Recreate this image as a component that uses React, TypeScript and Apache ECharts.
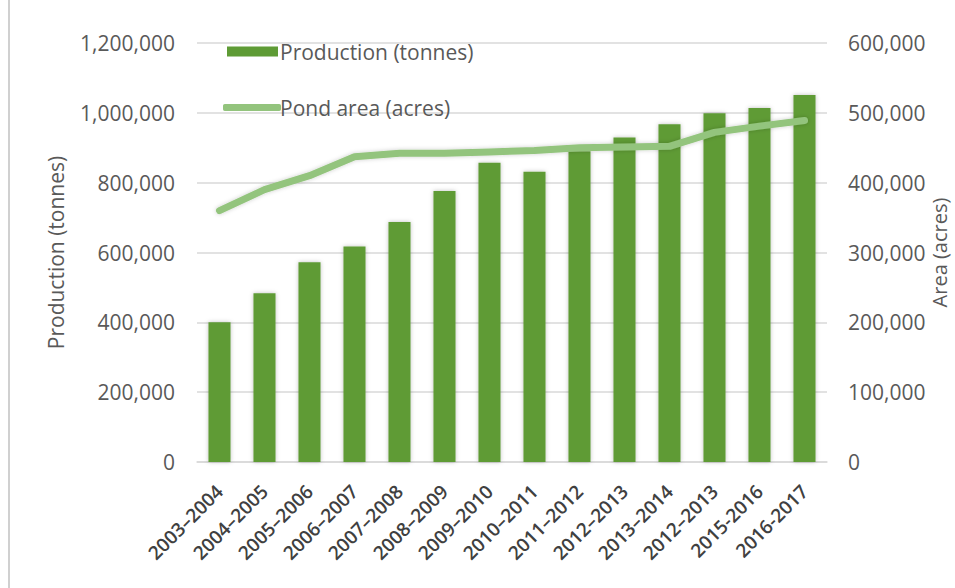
import React, { useEffect, useRef } from "react";
import * as echarts from "echarts";

// Seasons on the category axis
const seasons = [
  "2003–2004", "2004–2005", "2005–2006", "2006–2007", "2007–2008",
  "2008–2009", "2009–2010", "2010–2011", "2011–2012", "2012–2013",
  "2013–2014", "2012–2013", "2015-2016", "2016-2017",
];

// Fish production (tonnes), left axis
const production = [
  400000, 483000, 572000, 617000, 687000, 776000, 857000,
  831000, 890000, 929000, 967000, 999000, 1014000, 1051000,
];

// Pond area (acres), right axis
const pondArea = [
  360000, 390000, 410000, 437000, 442000, 442000, 444000,
  446000, 450000, 451000, 452000, 472000, 481000, 489000,
];

const leftTicks = [0, 200000, 400000, 600000, 800000, 1000000, 1200000];
const rightTicks = [0, 100000, 200000, 300000, 400000, 500000, 600000];

const FONT = "'Open Sans', sans-serif";
const TEXT = "#595959";
const GRID = "#d9d9d9";
const BAR = "#5e9b35";
const LINE = "#93c47d";

const fmt = (v: number) => v.toLocaleString("en-US");

export default function App() {
  const ref = useRef<HTMLDivElement>(null);

  useEffect(() => {
    if (!ref.current) return;
    const chart = echarts.init(ref.current, null, { renderer: "svg" });
    chart.setOption({
      animation: false,
      backgroundColor: "#ffffff",
      textStyle: { fontFamily: FONT },
      grid: {
        left: 197,
        right: 128,
        top: 43,
        bottom: 126,
        containLabel: false,
        outerBoundsMode: "none",
      },
      legend: [
        {
          left: 222,
          top: 36,
          itemWidth: 51,
          itemHeight: 10,
          itemGap: 0,
          data: [{ name: "Production (tonnes)", icon: "rect" }],
          textStyle: { color: TEXT, fontSize: 21, fontFamily: FONT, padding: [0, 0, 0, -3] },
        },
        {
          left: 218,
          top: 92,
          itemWidth: 58,
          itemHeight: 7,
          data: [{ name: "Pond area (acres)", icon: "roundRect" }],
          textStyle: { color: TEXT, fontSize: 21, fontFamily: FONT, padding: [0, 0, 0, -6] },
        },
      ],
      xAxis: {
        type: "category",
        data: seasons,
        axisLine: { lineStyle: { color: GRID, width: 1.5 } },
        axisTick: { show: false },
        axisLabel: {
          interval: 0,
          rotate: 45,
          margin: 26,
          color: "#404040",
          fontSize: 19,
          fontWeight: 600,
          fontFamily: FONT,
        },
      },
      yAxis: [
        {
          type: "value",
          min: leftTicks[0],
          max: leftTicks[leftTicks.length - 1],
          interval: leftTicks[1] - leftTicks[0],
          name: "Production (tonnes)",
          nameLocation: "middle",
          nameGap: 131,
          nameRotate: 90,
          nameMoveOverlap: false,
          nameTextStyle: { color: TEXT, fontSize: 21, fontFamily: FONT },
          axisLine: { show: false },
          axisTick: { show: false },
          axisLabel: { color: TEXT, fontSize: 21, margin: 22, formatter: fmt },
          splitLine: { lineStyle: { color: GRID, width: 1.5 } },
        },
        {
          type: "value",
          min: rightTicks[0],
          max: rightTicks[rightTicks.length - 1],
          interval: rightTicks[1] - rightTicks[0],
          name: "Area (acres)",
          nameLocation: "middle",
          nameGap: 102,
          nameRotate: 90,
          nameMoveOverlap: false,
          nameTextStyle: { color: TEXT, fontSize: 20, fontFamily: FONT },
          axisLine: { show: false },
          axisTick: { show: false },
          axisLabel: { color: TEXT, fontSize: 21, margin: 21, formatter: fmt },
          splitLine: { show: false },
        },
      ],
      series: [
        {
          name: "Production (tonnes)",
          type: "bar",
          yAxisIndex: 0,
          data: production,
          barWidth: "49%",
          itemStyle: {
            color: BAR,
            shadowColor: "rgba(0,0,0,0.25)",
            shadowBlur: 4,
          },
        },
        {
          name: "Pond area (acres)",
          type: "line",
          yAxisIndex: 1,
          data: pondArea,
          symbol: "none",
          z: 3,
          lineStyle: {
            color: LINE,
            width: 7,
            cap: "round",
            join: "round",
            shadowColor: "rgba(0,0,0,0.2)",
            shadowBlur: 4,
          },
          itemStyle: { color: LINE },
        },
      ],
      graphic: [
        {
          type: "line",
          shape: { x1: 9, y1: 0, x2: 9, y2: 588 },
          style: { stroke: "#d0d0d0", lineWidth: 2 },
        },
      ],
    });
    return () => chart.dispose();
  }, []);

  return (
    <div
      ref={ref}
      style={{ position: "fixed", left: 0, top: 0, width: 955, height: 588 }}
    />
  );
}
